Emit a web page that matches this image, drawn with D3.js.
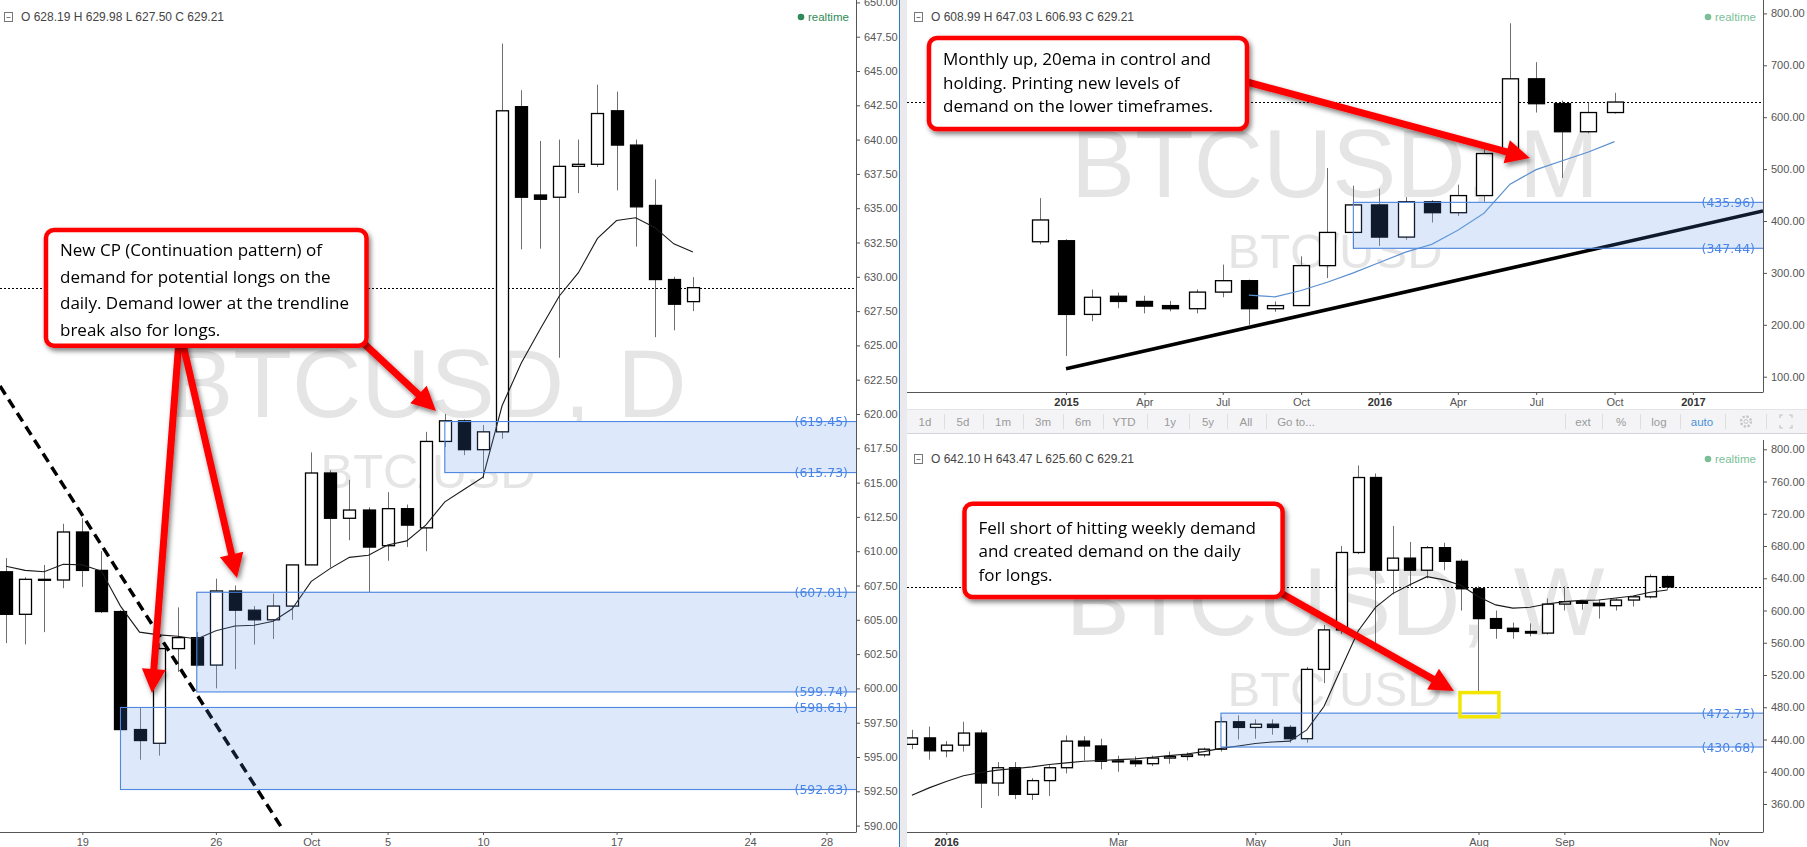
<!DOCTYPE html>
<html>
<head>
<meta charset="utf-8">
<title>BTCUSD multi timeframe</title>
<script src="https://cdn.jsdelivr.net/npm/d3@7/dist/d3.min.js"></script>
<style>
  html, body { margin:0; padding:0; background:#ffffff; overflow:hidden; }
  svg { display:block; }
</style>
</head>
<body>
<svg id="chart" width="1807" height="847"></svg>
<script>
// ======================= DATA =======================
// ---- Daily (BTCUSD, D), 2016 ----
const dailyDates = ["09-15","09-16","09-17","09-18","09-19","09-20","09-21","09-22","09-23","09-24","09-25","09-26","09-27","09-28","09-29","09-30","10-01","10-02","10-03","10-04","10-05","10-06","10-07","10-08","10-09","10-10","10-11","10-12","10-13","10-14","10-15","10-16","10-17","10-18","10-19","10-20","10-21"];
const dailyOpen  = [608.5,605.4,607.9,607.9,611.4,608.6,605.6,597.0,596.0,602.9,603.7,601.7,607.1,605.7,605.0,606.0,609.0,615.7,612.4,613.0,610.4,613.1,611.7,618.0,619.5,617.4,618.7,642.4,635.96,635.8,638.05,638.2,642.1,639.6,635.2,629.8,628.19];
const dailyHigh  = [609.5,608.1,609.0,612.0,612.4,610.0,605.7,598.6,603.3,605.9,604.1,608.0,607.5,606.0,606.9,609.0,617.2,615.9,615.2,613.2,614.3,613.4,618.7,620.0,619.6,619.2,647.0,643.6,639.9,640.0,640.0,644.0,643.5,640.0,637.1,630.0,629.98];
const dailyLow   = [603.3,603.2,604.1,607.3,607.4,605.5,596.8,594.8,595.1,601.2,601.6,600.0,601.4,603.2,603.6,605.0,609.0,608.8,610.8,607.0,609.3,610.3,610.0,617.6,617.0,615.3,618.2,632.0,632.05,624.1,636.1,638.0,636.3,632.2,625.6,626.1,627.50];
const dailyClose = [605.4,607.95,607.95,611.4,608.6,605.6,597.0,596.2,602.9,603.7,601.7,607.1,605.7,605.0,606.0,609.0,615.7,612.4,613.0,610.3,613.1,611.9,618.0,619.5,617.4,618.7,642.1,635.8,635.65,638.05,638.2,641.9,639.6,635.1,629.8,628.0,629.21];
const dailyEma   = [608.9,608.6,608.5,609.05,609.0,608.55,606.0,604.1,603.9,603.8,603.6,604.2,604.55,604.6,604.9,605.8,607.8,608.75,609.55,609.7,610.45,610.75,611.9,613.6,614.5,615.4,620.6,623.7,626.2,628.6,630.3,632.8,634.1,634.3,633.6,632.4,631.8];
const dailyTickAt    = ["09-19","09-26","10-01","10-05","10-10","10-17","10-24","10-28"];
const dailyTickText  = ["19","26","Oct","5","10","17","24","28"];
const dailyTickBold  = [false,false,false,false,false,false,false,false];
const dailyPriceTicks = [590,592.5,595,597.5,600,602.5,605,607.5,610,612.5,615,617.5,620,622.5,625,627.5,630,632.5,635,637.5,640,642.5,645,647.5,650];
const dailyZoneTop    = [619.45, 607.01, 598.61];
const dailyZoneBottom = [615.73, 599.74, 592.63];
const dailyZoneStart  = ["10-08","09-25","09-21"];
const dailyHeader = "O 628.19 H 629.98 L 627.50 C 629.21";
const dailyNote = ["New CP (Continuation pattern) of","demand for potential longs on the","daily. Demand lower at the trendline","break also for longs."];

// ---- Monthly (BTCUSD, M) ----
const monthlyDates = ["2014-12","2015-01","2015-02","2015-03","2015-04","2015-05","2015-06","2015-07","2015-08","2015-09","2015-10","2015-11","2015-12","2016-01","2016-02","2016-03","2016-04","2016-05","2016-06","2016-07","2016-08","2016-09","2016-10"];
const monthlyOpen  = [360,362,220,255,245,237,231,263,285,231,237,314,378,431,369,437,416,449,530,674,626,572,608.99];
const monthlyHigh  = [444,365,268,262,256,246,268,316,287,245,332,502,468,462,446,440,470,550,781,706,632,628,647.03];
const monthlyLow   = [355,140,207,232,222,226,222,253,200,225,236,290,346,352,364,397,410,437,521,609,483,569,606.93];
const monthlyClose = [402,220,253,245,236,231,263,285,231,237,314,378,431,369,437,416,449,530,674,626,572,609,629.21];
const monthlyEma   = [null,null,null,null,null,null,null,null,257,254,266,282,300,320,340,355,382,415,471,499,516,533,553];
const monthlyTickAt   = ["2015-01","2015-04","2015-07","2015-10","2016-01","2016-04","2016-07","2016-10","2017-01"];
const monthlyTickText = ["2015","Apr","Jul","Oct","2016","Apr","Jul","Oct","2017"];
const monthlyTickBold = [true,false,false,false,true,false,false,false,true];
const monthlyPriceTicks = [100,200,300,400,500,600,700,800];
const monthlyZoneTop    = [435.96];
const monthlyZoneBottom = [347.44];
const monthlyZoneStart  = ["2015-12"];
const monthlyHeader = "O 608.99 H 647.03 L 606.93 C 629.21";
const monthlyNote = ["Monthly up, 20ema in control and","holding. Printing new levels of","demand on the lower timeframes."];

// ---- Weekly (BTCUSD, W) ----
const weeklyDates = ["2015-12-14","2015-12-21","2015-12-28","2016-01-04","2016-01-11","2016-01-18","2016-01-25","2016-02-01","2016-02-08","2016-02-15","2016-02-22","2016-02-29","2016-03-07","2016-03-14","2016-03-21","2016-03-28","2016-04-04","2016-04-11","2016-04-18","2016-04-25","2016-05-02","2016-05-09","2016-05-16","2016-05-23","2016-05-30","2016-06-06","2016-06-13","2016-06-20","2016-06-27","2016-07-04","2016-07-11","2016-07-18","2016-07-25","2016-08-01","2016-08-08","2016-08-15","2016-08-22","2016-08-29","2016-09-05","2016-09-12","2016-09-19","2016-09-26","2016-10-03","2016-10-10","2016-10-17"];
const weeklyOpen  = [434,442,426,433,448,386,405,372,389,405,438,432,413,413.5,410,417,419,421,428,462,455,459,455,441,527,576,672,765,650,665,650,678,661,627,590,578,574,572,608,611,609,606,613,617,642.10];
const weeklyHigh  = [452,456,438,462,452,412,412,392,408,445,444,441,420,419,420,425,424,430,468,470,465,465,458,530,582,680,780,770,705,685,680,684,664,630,600,585,584,615,630,613,613,615,618,645,643.47];
const weeklyLow   = [428,415,418,425,355,370,366,365,370,398,414,403,400,406,407,410,414,418,425,440,441,446,436,436,510,571,670,550,620,630,640,650,600,500,565,565,568,570,600,601,590,600,605,615,625.60];
const weeklyClose = [442,426,433,448,386,405,372,389,405,438,432,413,413.5,410,417,419,421,428,462,455,459,455,441,527,576,672,765,650,665,650,678,661,627,590,578,574,572,608,611,609,606,613,617,642.10,629.21];
const weeklyEma   = [371,380,388,395,399,402,404,406,409,411,413,414,415,416,418,420,422,425,429,432,435,437,438,452,481,528,575,604,621,632,642,638,631,617,607,603,604,608,611,612.6,613,615.5,618,622.6,625.5];
const weeklyTickAt   = ["2015-12-28","2016-03-07","2016-05-02","2016-06-06","2016-08-01","2016-09-05","2016-11-07"];
const weeklyTickText = ["2016","Mar","May","Jun","Aug","Sep","Nov"];
const weeklyTickBold = [true,false,false,false,false,false,false];
const weeklyPriceTicks = [360,400,440,480,520,560,600,640,680,720,760,800];
const weeklyZoneTop    = [472.75];
const weeklyZoneBottom = [430.68];
const weeklyZoneStart  = ["2016-04-18"];
const weeklyHeader = "O 642.10 H 643.47 L 625.60 C 629.21";
const weeklyNote = ["Fell short of hitting weekly demand","and created demand on the daily","for longs."];

const lastPrice = 629.21;
const toolbarLeft  = ["1d","5d","1m","3m","6m","YTD","1y","5y","All","Go to..."];
const toolbarRight = ["ext","%","log","auto"];

// ======================= helpers: category -> bar index =======================
function dayIndex(list) {            // "MM-DD" in 2016, one bar per calendar day
  const p = s => { const [m, d] = s.split("-").map(Number); return Date.UTC(2016, m - 1, d); };
  const t0 = p(list[0]);
  return s => Math.round((p(s) - t0) / 86400000);
}
function monthIndex(list) {          // "YYYY-MM", one bar per month
  const p = s => { const [y, m] = s.split("-").map(Number); return y * 12 + (m - 1); };
  const t0 = p(list[0]);
  return s => p(s) - t0;
}
function weekIndex(list) {           // "YYYY-MM-DD", one bar per week
  const p = s => { const [y, m, d] = s.split("-").map(Number); return Date.UTC(y, m - 1, d); };
  const t0 = p(list[0]);
  return s => Math.round((p(s) - t0) / (7 * 86400000));
}

// ======================= DRAWING =======================
const W = 1807, H = 847;
const FONT = "'Liberation Sans', Arial, sans-serif";
const NOTE_FONT = "'Open Sans', 'Liberation Sans', sans-serif";
const svg = d3.select("#chart");
svg.append("rect").attr("width", W).attr("height", H).attr("fill", "#ffffff");
const defs = svg.append("defs");
const flt = defs.append("filter").attr("id", "shadow")
  .attr("x", "-30%").attr("y", "-30%").attr("width", "160%").attr("height", "160%");
flt.append("feDropShadow").attr("dx", 2).attr("dy", 3).attr("stdDeviation", 2.5)
  .attr("flood-color", "#000").attr("flood-opacity", 0.5);

// panel separators
svg.append("rect").attr("x", 899).attr("y", 0).attr("width", 8).attr("height", H).attr("fill", "#e9e9ee");
svg.append("line").attr("x1", 899.5).attr("x2", 899.5).attr("y1", 0).attr("y2", H)
  .attr("stroke", "#2f7dbd").attr("stroke-width", 1);

function drawArrow(g, x1, y1, x2, y2) {
  const dx = x2 - x1, dy = y2 - y1, L = Math.hypot(dx, dy);
  const ux = dx / L, uy = dy / L, px = -uy, py = ux;
  const hl = 24, hw = 12;
  const bx = x2 - ux * hl, by = y2 - uy * hl;
  const ga = g.append("g").attr("filter", "url(#shadow)");
  ga.append("line").attr("x1", x1).attr("y1", y1).attr("x2", bx + ux * 3).attr("y2", by + uy * 3)
    .attr("stroke", "#ff0000").attr("stroke-width", 7);
  ga.append("path")
    .attr("d", `M${x2},${y2}L${bx + px * hw},${by + py * hw}L${bx - px * hw},${by - py * hw}Z`)
    .attr("fill", "#ff0000");
}

function drawPanel(cfg) {
  const x = d3.scaleLinear().domain(cfg.xDomain).range([cfg.left, cfg.right]);
  const y = d3.scaleLinear().domain(cfg.yDomain).range(cfg.yRange);
  const toIdx = cfg.indexer(cfg.dates);
  const idx = v => typeof v === "number" ? v : toIdx(v);
  const clipId = "clip-" + cfg.id;
  defs.append("clipPath").attr("id", clipId).append("rect")
    .attr("x", cfg.left).attr("y", cfg.top)
    .attr("width", cfg.right - cfg.left).attr("height", cfg.bottom - cfg.top);
  const root = svg.append("g");
  const plot = root.append("g").attr("clip-path", `url(#${clipId})`);
  const cx = (cfg.left + cfg.right) / 2, cy = (cfg.top + cfg.bottom) / 2;

  // watermark
  plot.append("text").attr("x", cx).attr("y", cy + 1).attr("text-anchor", "middle")
    .attr("font-family", FONT).attr("font-size", 96).attr("fill", "#e5e5e5").text(cfg.watermark);
  plot.append("text").attr("x", cx).attr("y", cy + 72).attr("text-anchor", "middle")
    .attr("font-family", FONT).attr("font-size", 49).attr("fill", "#e5e5e5").text("BTC/USD");

  const rows = cfg.open.map((o, i) => ({ i, o, h: cfg.high[i], l: cfg.low[i], c: cfg.close[i] }));
  const zones = cfg.zoneTop.map((t, k) => ({ t, b: cfg.zoneBottom[k], s: idx(cfg.zoneStart[k]) }));

  // zone fills
  plot.selectAll("rect.zf").data(zones).join("rect").attr("class", "zf")
    .attr("x", d => x(d.s)).attr("width", d => cfg.right - x(d.s))
    .attr("y", d => y(d.t)).attr("height", d => y(d.b) - y(d.t))
    .attr("fill", "#dbe7f9");

  // last price dotted line
  plot.append("line").attr("x1", cfg.left).attr("x2", cfg.right)
    .attr("y1", Math.round(y(lastPrice)) + 0.5).attr("y2", Math.round(y(lastPrice)) + 0.5)
    .attr("stroke", "#000").attr("stroke-width", 1).attr("stroke-dasharray", "2,2");

  // candles
  const gc = plot.append("g");
  gc.selectAll("line.wick").data(rows).join("line").attr("class", "wick")
    .attr("x1", d => Math.round(x(d.i)) + 0.5).attr("x2", d => Math.round(x(d.i)) + 0.5)
    .attr("y1", d => y(d.h)).attr("y2", d => y(d.l))
    .attr("stroke", "#6e6e6e").attr("stroke-width", 1);
  gc.selectAll("rect.body").data(rows).join("rect").attr("class", "body")
    .attr("x", d => Math.round(x(d.i) - cfg.bodyWidth / 2) + 0.5).attr("width", cfg.bodyWidth)
    .attr("y", d => y(Math.max(d.o, d.c)))
    .attr("height", d => Math.max(1, Math.abs(y(d.o) - y(d.c))))
    .attr("fill", d => d.c >= d.o ? "#ffffff" : "#000000")
    .attr("stroke", "#000").attr("stroke-width", 1.3);

  // EMA
  const emaRows = cfg.ema.map((v, i) => ({ i, v })).filter(d => d.v != null);
  plot.append("path").datum(emaRows)
    .attr("d", d3.line().x(d => x(d.i)).y(d => y(d.v)))
    .attr("fill", "none").attr("stroke", cfg.emaColor).attr("stroke-width", cfg.emaWidth);

  // trend line
  if (cfg.trend) {
    plot.append("line")
      .attr("x1", x(cfg.trend[0][0])).attr("y1", y(cfg.trend[0][1]))
      .attr("x2", x(cfg.trend[1][0])).attr("y2", y(cfg.trend[1][1]))
      .attr("stroke", "#000").attr("stroke-width", 3.5)
      .attr("stroke-dasharray", cfg.trendDash || null);
  }

  // zone tint on top of dark marks (screen blend keeps whites white)
  plot.selectAll("rect.zt").data(zones).join("rect").attr("class", "zt")
    .attr("x", d => x(d.s)).attr("width", d => cfg.right - x(d.s))
    .attr("y", d => y(d.t)).attr("height", d => y(d.b) - y(d.t))
    .attr("fill", "#101a2d").style("mix-blend-mode", "screen");

  // zone borders
  plot.selectAll("rect.zb").data(zones).join("rect").attr("class", "zb")
    .attr("x", d => x(d.s)).attr("width", d => cfg.right - x(d.s) + 2)
    .attr("y", d => y(d.t)).attr("height", d => y(d.b) - y(d.t))
    .attr("fill", "none").attr("stroke", "#4f88e3").attr("stroke-width", 1.1);

  // zone labels
  const zl = [];
  zones.forEach(z => { zl.push(z.t); zl.push(z.b); });
  plot.selectAll("text.zl").data(zl).join("text").attr("class", "zl")
    .attr("x", cfg.right - 8).attr("y", d => y(d)).attr("dy", "0.36em")
    .attr("text-anchor", "end").attr("font-family", "'DejaVu Sans', sans-serif")
    .attr("font-size", 12.5).attr("fill", "#4a86e8")
    .text(d => "(" + d.toFixed(2) + ")");

  // yellow highlight box
  if (cfg.hilite) {
    const hb = cfg.hilite;
    plot.append("rect").attr("x", x(hb[0])).attr("y", y(hb[3]))
      .attr("width", x(hb[1]) - x(hb[0])).attr("height", y(hb[2]) - y(hb[3]))
      .attr("fill", "none").attr("stroke", "#f2e600").attr("stroke-width", 3.5);
  }

  // arrows
  cfg.arrows.forEach(a => drawArrow(plot, x(a[0]), y(a[1]), x(a[2]), y(a[3])));

  // callout box
  const bx0 = x(cfg.box[0]), bx1 = x(cfg.box[1]), by0 = y(cfg.box[2]), by1 = y(cfg.box[3]);
  plot.append("rect").attr("x", bx0).attr("y", by0).attr("width", bx1 - bx0).attr("height", by1 - by0)
    .attr("rx", 8).attr("ry", 8).attr("fill", "#fff").attr("stroke", "#ff0000").attr("stroke-width", 4.5)
    .attr("filter", "url(#shadow)");
  plot.selectAll("text.note").data(cfg.note).join("text").attr("class", "note")
    .attr("x", bx0 + 14).attr("y", (d, i) => by0 + cfg.noteFirst + i * cfg.noteLine)
    .attr("font-family", NOTE_FONT).attr("font-size", 17).attr("fill", "#000").text(d => d);

  // price axis
  const ay = root.append("g").attr("transform", `translate(${cfg.right},0)`);
  ay.append("line").attr("x1", 0.5).attr("x2", 0.5).attr("y1", cfg.axisTop).attr("y2", cfg.bottom)
    .attr("stroke", "#555").attr("stroke-width", 1);
  const yAxis = d3.axisRight(y).tickValues(cfg.priceTicks).tickFormat(d => d.toFixed(2))
    .tickSize(4).tickPadding(4);
  const gy = ay.append("g").call(yAxis);
  gy.select(".domain").remove();
  gy.selectAll(".tick line").attr("stroke", "#555");
  gy.selectAll(".tick text").attr("font-family", FONT).attr("font-size", 11).attr("fill", "#555");

  // time axis
  const ax = root.append("g").attr("transform", `translate(0,${cfg.bottom})`);
  ax.append("line").attr("x1", cfg.left).attr("x2", cfg.right + 0.5).attr("y1", 0.5).attr("y2", 0.5)
    .attr("stroke", "#555").attr("stroke-width", 1);
  const tickIdx = cfg.tickAt.map(idx);
  const xAxis = d3.axisBottom(x).tickValues(tickIdx)
    .tickFormat((d, i) => cfg.tickText[i]).tickSize(3).tickPadding(3);
  const gx = ax.append("g").call(xAxis);
  gx.select(".domain").remove();
  gx.selectAll(".tick line").attr("stroke", "#555");
  gx.selectAll(".tick text").attr("font-family", FONT).attr("font-size", 11)
    .attr("fill", (d, i) => cfg.tickBold[i] ? "#333" : "#555")
    .attr("font-weight", (d, i) => cfg.tickBold[i] ? "bold" : "normal");

  // header
  const hy = cfg.top + cfg.headerOffset;
  const hg = root.append("g");
  hg.append("rect").attr("x", cfg.left + cfg.iconX + 0.5).attr("y", hy - 8.5).attr("width", 8).attr("height", 9)
    .attr("fill", "#fff").attr("stroke", "#777").attr("stroke-width", 1);
  hg.append("line").attr("x1", cfg.left + cfg.iconX + 2.5).attr("x2", cfg.left + cfg.iconX + 6.5)
    .attr("y1", hy - 3.5).attr("y2", hy - 3.5).attr("stroke", "#777");
  hg.append("text").attr("x", cfg.left + cfg.iconX + 17).attr("y", hy)
    .attr("font-family", FONT).attr("font-size", 12).attr("fill", "#444").text(cfg.header);
  hg.append("circle").attr("cx", cfg.right - 55).attr("cy", hy - 4).attr("r", 3.3).attr("fill", cfg.rtColor);
  hg.append("text").attr("x", cfg.right - 48).attr("y", hy)
    .attr("font-family", FONT).attr("font-size", 11.5).attr("fill", cfg.rtColor).text("realtime");
}

// ---- Daily panel ----
drawPanel({
  id: "d", dates: dailyDates, indexer: dayIndex, left: 0, right: 856, top: 0, bottom: 832, axisTop: 0,
  xDomain: [-0.3145, 44.549], yDomain: [590, 650], yRange: [825.6, 2.4],
  open: dailyOpen, high: dailyHigh, low: dailyLow, close: dailyClose, ema: dailyEma,
  emaColor: "#1a1a1a", emaWidth: 1.1, bodyWidth: 12,
  zoneTop: dailyZoneTop, zoneBottom: dailyZoneBottom, zoneStart: dailyZoneStart,
  priceTicks: dailyPriceTicks, tickAt: dailyTickAt, tickText: dailyTickText, tickBold: dailyTickBold,
  watermark: "BTCUSD, D", header: dailyHeader, headerOffset: 21, iconX: 4, rtColor: "#2e8b57",
  trend: [[-0.3145, 622.04], [14.52, 589.69]], trendDash: "10,6",
  arrows: [[9.067, 625.39, 7.652, 599.66], [9.224, 625.39, 12.107, 608.05], [18.344, 625.68, 22.537, 620.22]],
  box: [2.096, 18.894, 633.41, 624.98], note: dailyNote, noteFirst: 26, noteLine: 26.5
});

// ---- Monthly panel ----
drawPanel({
  id: "m", dates: monthlyDates, indexer: monthIndex, left: 907, right: 1763, top: 0, bottom: 392, axisTop: 0,
  xDomain: [-5.088, 27.684], yDomain: [100, 800], yRange: [376.7, 13.4],
  open: monthlyOpen, high: monthlyHigh, low: monthlyLow, close: monthlyClose, ema: monthlyEma,
  emaColor: "#5a8fd0", emaWidth: 1.2, bodyWidth: 16,
  zoneTop: monthlyZoneTop, zoneBottom: monthlyZoneBottom, zoneStart: monthlyZoneStart,
  priceTicks: monthlyPriceTicks, tickAt: monthlyTickAt, tickText: monthlyTickText, tickBold: monthlyTickBold,
  watermark: "BTCUSD, M", header: monthlyHeader, headerOffset: 21, iconX: 7, rtColor: "#7bbf98",
  trend: [[1, 115.2], [27.684, 419.3]], trendDash: null,
  arrows: [[7.508, 673.6, 18.76, 521.4]],
  box: [-4.246, 7.929, 752.6, 577.3], note: monthlyNote, noteFirst: 27, noteLine: 23.5
});

// ---- Weekly panel ----
drawPanel({
  id: "w", dates: weeklyDates, indexer: weekIndex, left: 907, right: 1763, top: 436, bottom: 832, axisTop: 440,
  xDomain: [-0.2854, 49.57], yDomain: [360, 800], yRange: [804, 449.3],
  open: weeklyOpen, high: weeklyHigh, low: weeklyLow, close: weeklyClose, ema: weeklyEma,
  emaColor: "#1a1a1a", emaWidth: 1.1, bodyWidth: 11,
  zoneTop: weeklyZoneTop, zoneBottom: weeklyZoneBottom, zoneStart: weeklyZoneStart,
  priceTicks: weeklyPriceTicks, tickAt: weeklyTickAt, tickText: weeklyTickText, tickBold: weeklyTickBold,
  watermark: "BTCUSD, W", header: weeklyHeader, headerOffset: 27, iconX: 7, rtColor: "#7bbf98",
  trend: null, hilite: [31.92, 34.19, 468.2, 498.2],
  arrows: [[20.97, 627.9, 31.57, 500.2]],
  box: [3.063, 21.59, 732.6, 616.8], note: weeklyNote, noteFirst: 30, noteLine: 23.5
});

// ---- Toolbar between right panels ----
const tb = svg.append("g");
tb.append("rect").attr("x", 907).attr("y", 410).attr("width", W - 907).attr("height", 23).attr("fill", "#f4f4f6");
tb.append("line").attr("x1", 907).attr("x2", W).attr("y1", 433.5).attr("y2", 433.5).attr("stroke", "#d4d4d8");
tb.append("line").attr("x1", 907).attr("x2", W).attr("y1", 409.5).attr("y2", 409.5).attr("stroke", "#e4e4e8");
const leftX = [925, 963, 1003, 1043, 1083, 1124, 1170, 1208, 1246, 1296];
tb.selectAll("text.tl").data(toolbarLeft).join("text").attr("class", "tl")
  .attr("x", (d, i) => leftX[i]).attr("y", 426).attr("text-anchor", "middle")
  .attr("font-family", FONT).attr("font-size", 11.5).attr("fill", "#9a9a9a").text(d => d);
const sepL = [944, 983, 1023, 1063, 1103, 1147, 1189, 1227, 1266];
tb.selectAll("line.sl").data(sepL).join("line").attr("class", "sl")
  .attr("x1", d => d + 0.5).attr("x2", d => d + 0.5).attr("y1", 414).attr("y2", 429).attr("stroke", "#dedede");
const rightX = [1583, 1621, 1659, 1702];
tb.selectAll("text.tr").data(toolbarRight).join("text").attr("class", "tr")
  .attr("x", (d, i) => rightX[i]).attr("y", 426).attr("text-anchor", "middle")
  .attr("font-family", FONT).attr("font-size", 11.5)
  .attr("fill", d => d === "auto" ? "#4a90d9" : "#9a9a9a").text(d => d);
const sepR = [1565, 1602, 1640, 1680, 1725, 1766];
tb.selectAll("line.sr").data(sepR).join("line").attr("class", "sr")
  .attr("x1", d => d + 0.5).attr("x2", d => d + 0.5).attr("y1", 414).attr("y2", 429).attr("stroke", "#dedede");
// gear icon
tb.append("circle").attr("cx", 1746).attr("cy", 421.5).attr("r", 5).attr("fill", "none")
  .attr("stroke", "#c4c4c4").attr("stroke-width", 2.4).attr("stroke-dasharray", "2.2,1.7");
tb.append("circle").attr("cx", 1746).attr("cy", 421.5).attr("r", 2).attr("fill", "#f4f4f6").attr("stroke", "#c4c4c4");
// fullscreen icon
tb.append("path").attr("d", "M1780,418v-3h3M1792,418v-3h-3M1780,425v3h3M1792,425v3h-3")
  .attr("fill", "none").attr("stroke", "#c4c4c4").attr("stroke-width", 1.2);
</script>
</body>
</html>
